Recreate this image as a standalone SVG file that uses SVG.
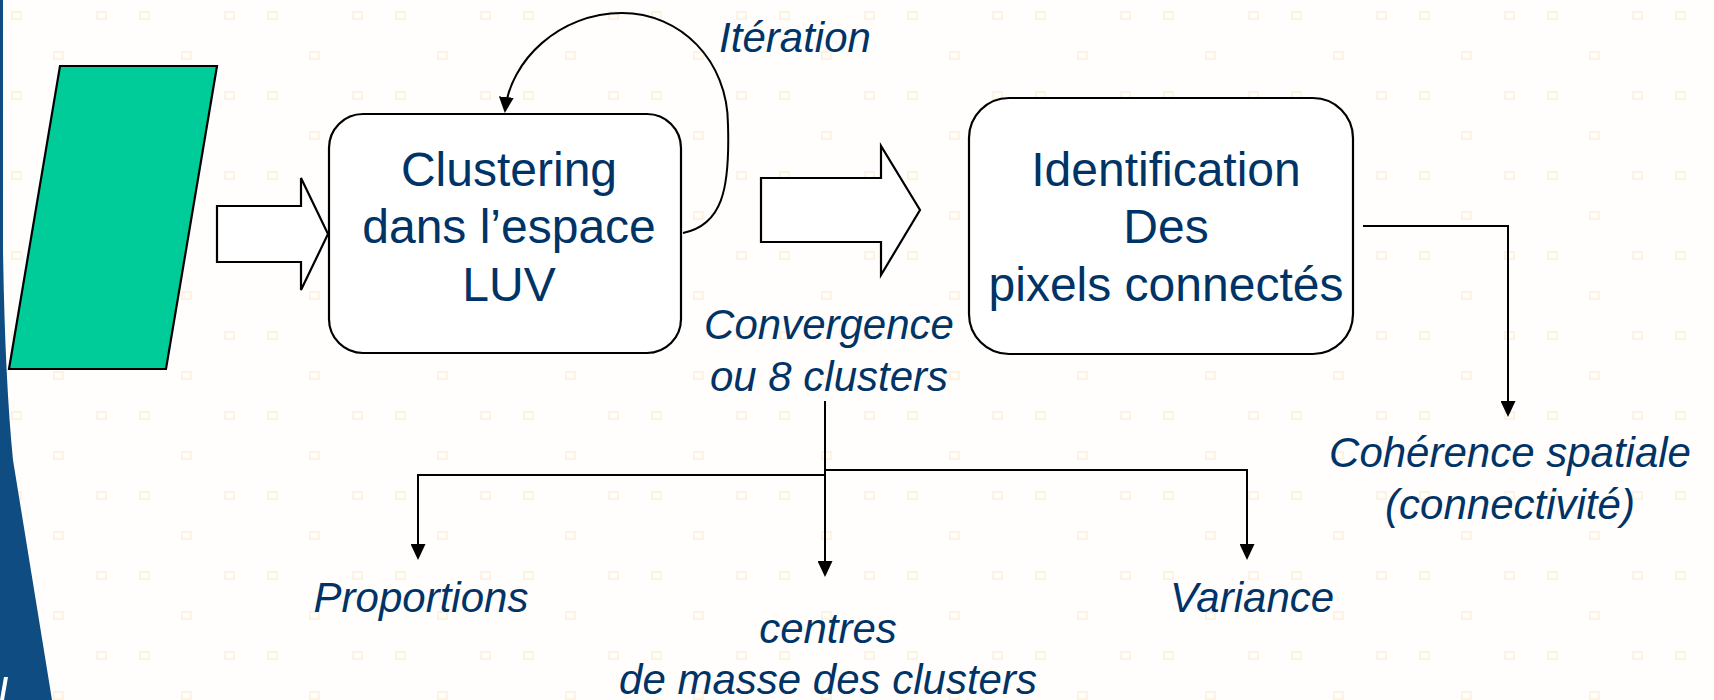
<svg xmlns="http://www.w3.org/2000/svg" width="1714" height="700" viewBox="0 0 1714 700">
<style>
  .txt{font-family:"Liberation Sans",Arial,sans-serif;fill:#003366;text-anchor:middle}
  .box{font-size:48px}
  .lbl{font-size:42px;font-style:italic}
  .node{fill:#ffffff;stroke:#000000;stroke-width:2.2}
  .conn{fill:none;stroke:#000000;stroke-width:2}
</style>
<defs>
  <pattern id="bg" patternUnits="userSpaceOnUse" x="0" y="0" width="128" height="80">
    <rect x="12" y="12" width="9" height="7" fill="none" stroke="#f6e2bd" stroke-width="1.6"/>
    <rect x="97" y="12" width="9" height="7" fill="none" stroke="#f6e2bd" stroke-width="1.6"/>
    <rect x="54" y="52" width="9" height="7" fill="none" stroke="#f6e2bd" stroke-width="1.6"/>
  </pattern>
  <marker id="arr" viewBox="0 0 16 15" refX="14" refY="7.5" markerWidth="16" markerHeight="15" markerUnits="userSpaceOnUse" orient="auto">
    <path d="M0,0 L16,7.5 L0,15 Z" fill="#000000"/>
  </marker>
</defs>

<g id="background">
  <rect x="0" y="0" width="1714" height="700" fill="#fffefc"/>
  <rect x="0" y="0" width="1714" height="700" fill="url(#bg)" opacity="0.5"/>
  <path d="M0,0 L3,0 L3,250 Q5,380 13,460 L52,700 L0,700 Z" fill="#0f4c81"/>
  <path d="M4,677 L8,677 L4,700 L0,700 Z" fill="#ffffff"/>
</g>

<g id="input">
  <polygon points="60,66 217,66 166,369 9,369" fill="#00cc99" stroke="#000000" stroke-width="2.2"/>
</g>

<g id="arrow-in">
  <polygon class="node" points="217,206 301,206 301,178 328,234 301,290 301,262 217,262"/>
</g>

<g id="clustering">
  <rect class="node" x="329" y="114" width="352" height="239" rx="34" ry="34"/>
  <text class="txt box" x="509" y="186">Clustering</text>
  <text class="txt box" x="509" y="243">dans l’espace</text>
  <text class="txt box" x="509" y="301">LUV</text>
</g>

<g id="arrow-mid">
  <polygon class="node" points="761,178 881,178 881,146 920,210 881,275 881,242 761,242"/>
</g>

<g id="identification">
  <rect class="node" x="969" y="98" width="384" height="256" rx="40" ry="40"/>
  <text class="txt box" x="1166" y="186">Identification</text>
  <text class="txt box" x="1166" y="243">Des</text>
  <text class="txt box" x="1166" y="301">pixels connectés</text>
</g>

<g id="connectors">
  <path class="conn" d="M683,233 C722,225 730,190 728,125 C728,60 680,13 622,13 C560,13 510,60 505,111" marker-end="url(#arr)"/>
  <path class="conn" d="M1363,226 L1508,226 L1508,415" marker-end="url(#arr)"/>
  <path class="conn" d="M825,401 L825,575" marker-end="url(#arr)"/>
  <path class="conn" d="M825,475 L418,475 L418,558" marker-end="url(#arr)"/>
  <path class="conn" d="M825,470 L1247,470 L1247,558" marker-end="url(#arr)"/>
</g>

<g id="labels">
  <text class="txt lbl" x="795" y="52">Itération</text>
  <text class="txt lbl" x="829" y="339">Convergence</text>
  <text class="txt lbl" x="829" y="391">ou 8 clusters</text>
  <text class="txt lbl" x="1510" y="467">Cohérence spatiale</text>
  <text class="txt lbl" x="1510" y="519">(connectivité)</text>
  <text class="txt lbl" x="421" y="612">Proportions</text>
  <text class="txt lbl" x="828" y="643">centres</text>
  <text class="txt lbl" x="828" y="694">de masse des clusters</text>
  <text class="txt lbl" x="1252" y="612">Variance</text>
</g>
</svg>
